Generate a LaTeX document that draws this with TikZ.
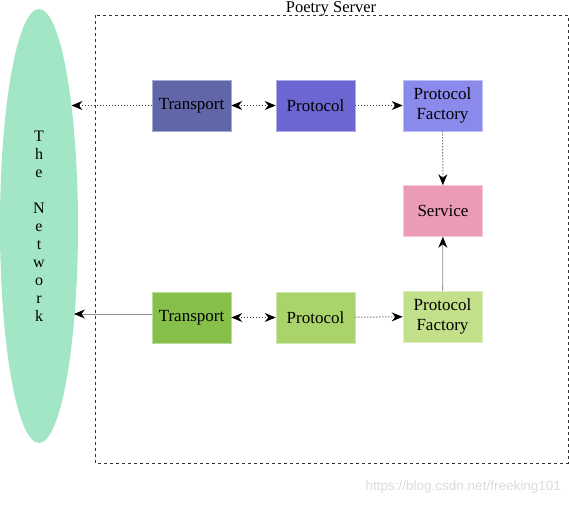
\documentclass[tikz,border=0pt]{standalone}
\usepackage{fontspec}
\setmainfont{Liberation Serif}
\newfontfamily\wmfont{Liberation Sans}
\usetikzlibrary{arrows.meta,shapes.geometric}
\definecolor{cT1}{HTML}{6166A8}
\definecolor{cP1}{HTML}{6B66D2}
\definecolor{cF1}{HTML}{8A8AEC}
\definecolor{cSv}{HTML}{EB9BB4}
\definecolor{cT2}{HTML}{86BF4A}
\definecolor{cP2}{HTML}{AAD46B}
\definecolor{cF2}{HTML}{C2E08A}
\definecolor{cNet}{HTML}{A3E6C5}
\begin{document}
\begin{tikzpicture}[x=1pt,y=-1pt,
  txt/.style={font=\fontsize{17}{20}\selectfont},
  box/.style={txt, minimum width=79pt, minimum height=51pt, inner sep=0pt, align=center,
    draw=#1!55!white, fill=#1, line width=0.6pt},
  tip/.style={-{Stealth[length=11pt,width=9pt,black]}},
  tips/.style={{Stealth[length=11pt,width=9pt,black]}-{Stealth[length=11pt,width=9pt,black]}},
  dots/.style={dotted, line width=1pt, draw=black!80},
  solid gray/.style={line width=0.8pt, draw=black!45}
]
\useasboundingbox (0,0) rectangle (569,505);

% server frame
\draw[dash pattern=on 3pt off 3pt, line width=0.8pt, draw=black!80] (95.5,15.5) rectangle (568,463);
\node[font=\fontsize{16.5}{19}\selectfont, inner sep=0pt, anchor=base] (title) at (331,12.5) {Poetry Server};

% the network
\node[ellipse, fill=cNet, minimum width=78pt, minimum height=434pt, inner sep=0pt,
  align=center, font=\fontsize{16}{18}\selectfont] (net) at (39,226)
  {T\\h\\e\\[18pt]N\\e\\t\\w\\o\\r\\k};

% boxes
\node[box=cT1] (T1) at (191.5,105.5) {Transport};
\node[box=cP1] (P1) at (315.5,105.5) {Protocol};
\node[box=cF1] (F1) at (442.5,105.5) {Protocol\\Factory};
\node[box=cSv] (S)  at (443,211) {Service};
\node[box=cT2] (T2) at (191.5,317.5) {Transport};
\node[box=cP2] (P2) at (315.5,317.5) {Protocol};
\node[box=cF2] (F2) at (442.5,316.5) {Protocol\\Factory};

\coordinate (n1) at (71.5,105.5);
\coordinate (n2) at (74,314);

% connectors
\draw[dots,tip] (T1.west) -- (n1);
\draw[dots,tips] (T1) -- (P1);
\draw[dots,tip] (P1) -- (F1);
\draw[dots,tip] (F1) -- (S);
\draw[solid gray,tip] (T2.west |- n2) -- (n2);
\draw[dots,tips] (T2) -- (P2);
\draw[dots,tip] (P2) -- (F2);
\draw[solid gray,tip] (F2) -- (S);

% watermark
\node[font=\wmfont\fontsize{13.5}{16}\selectfont, text=black!14, anchor=east, inner sep=0pt] (wm) at (561,487) {https://blog.csdn.net/freeking101};
\end{tikzpicture}
\end{document}
